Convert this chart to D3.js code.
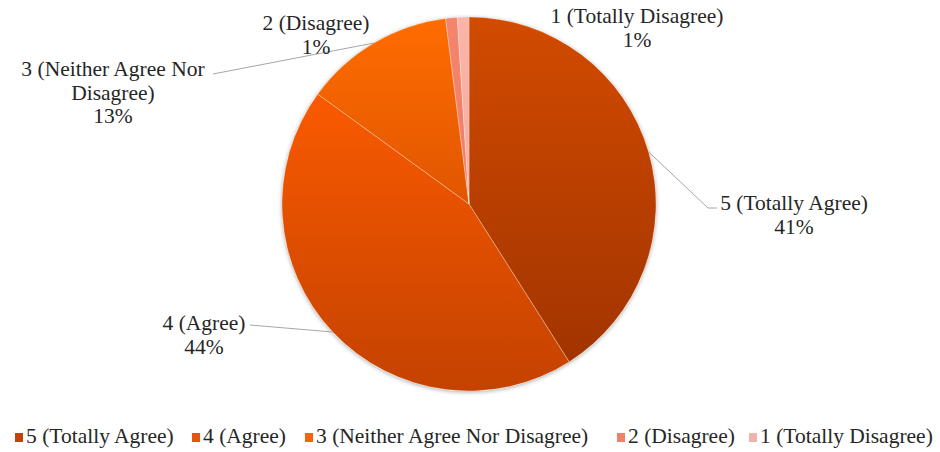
<!DOCTYPE html>
<html>
<head>
<meta charset="utf-8">
<script src="https://cdn.jsdelivr.net/npm/d3@7"></script>
<style>
  html, body { margin: 0; padding: 0; background: #fff; }
  svg { display: block; }
</style>
</head>
<body>
<div id="chart"></div>
<script>
const categories = ["5 (Totally Agree)", "4 (Agree)", "3 (Neither Agree Nor Disagree)", "2 (Disagree)", "1 (Totally Disagree)"];
const values = [41, 44, 13, 1, 1];
const labelLines = [["5 (Totally Agree)"], ["4 (Agree)"], ["3 (Neither Agree Nor", "Disagree)"], ["2 (Disagree)"], ["1 (Totally Disagree)"]];

// styles / layout (not data)
const font = "Tinos, 'Times New Roman', serif";
const sliceTop = ["#d24b00", "#fa5a00", "#ff6c00", "#f4846c", "#fbb4a8"];
const sliceBottom = ["#a23400", "#c44200", "#e05600", "#f07e66", "#f8aca0"];
const legendFill = ["#c0440a", "#e85410", "#f66210", "#ee8266", "#f0b2aa"];
// label anchor (center x, first baseline) and leader-line elbow per slice
const labelPos = [[794, 210], [204, 330], [113, 76], [316, 30], [637, 23]];
const leaderEnd = [[[708, 208], [717, 208]], [[250, 325]], [[213, 74]], null, null];
const legendX = [15, 192, 305, 617, 749];

const width = 940, height = 452;
const cx = 469, cy = 204, r = 187;

const svg = d3.select("#chart").append("svg").attr("width", width).attr("height", height);
const defs = svg.append("defs");

const shadow = defs.append("filter").attr("id", "shadow").attr("x", "-10%").attr("y", "-10%").attr("width", "120%").attr("height", "120%");
shadow.append("feDropShadow").attr("dx", 0).attr("dy", 1).attr("stdDeviation", 2).attr("flood-color", "#000").attr("flood-opacity", 0.35);

categories.forEach((c, i) => {
  const g = defs.append("linearGradient").attr("id", "grad" + i).attr("x1", 0).attr("y1", 0).attr("x2", 0).attr("y2", 1);
  g.append("stop").attr("offset", "0%").attr("stop-color", sliceTop[i]);
  g.append("stop").attr("offset", "100%").attr("stop-color", sliceBottom[i]);
});

const pie = d3.pie().sort(null).value((d) => d);
const arcs = pie(values);
const arc = d3.arc().innerRadius(0).outerRadius(r);
const edgeArc = d3.arc().innerRadius(r).outerRadius(r);

const pieG = svg.append("g").attr("transform", `translate(${cx},${cy})`);
pieG.append("circle").attr("r", r).attr("fill", "#fff").attr("filter", "url(#shadow)");
pieG
  .selectAll("path")
  .data(arcs)
  .join("path")
  .attr("d", arc)
  .attr("fill", (d, i) => `url(#grad${i})`)
  .attr("stroke", "rgba(255,255,255,0.35)")
  .attr("stroke-width", 0.8);

// leader lines
arcs.forEach((d, i) => {
  if (!leaderEnd[i]) return;
  const [px, py] = edgeArc.centroid(d);
  const pts = [[cx + px, cy + py], ...leaderEnd[i]];
  svg.append("path").attr("d", d3.line()(pts)).attr("fill", "none").attr("stroke", "#a6a6a6").attr("stroke-width", 1);
});

const label = (sel) => sel.attr("font-family", font).attr("font-size", 21.5).attr("fill", "#262626");

// data labels
arcs.forEach((d, i) => {
  const lines = [...labelLines[i], d3.format(".0f")(values[i]) + "%"];
  const t = svg.append("text").call(label).attr("text-anchor", "middle").attr("x", labelPos[i][0]).attr("y", labelPos[i][1]);
  lines.forEach((l, j) => {
    t.append("tspan").attr("x", labelPos[i][0]).attr("dy", j === 0 ? 0 : 23.5).text(l);
  });
});

// legend
const legend = svg.append("g").attr("transform", "translate(0,443)");
const items = legend
  .selectAll("g")
  .data(categories)
  .join("g")
  .attr("transform", (d, i) => `translate(${legendX[i]},0)`);
items.append("rect").attr("x", 0).attr("y", -10).attr("width", 8).attr("height", 9).attr("fill", (d, i) => legendFill[i]);
items.append("text").call(label).attr("x", 11).attr("y", 0).text((d) => d);
</script>
</body>
</html>
